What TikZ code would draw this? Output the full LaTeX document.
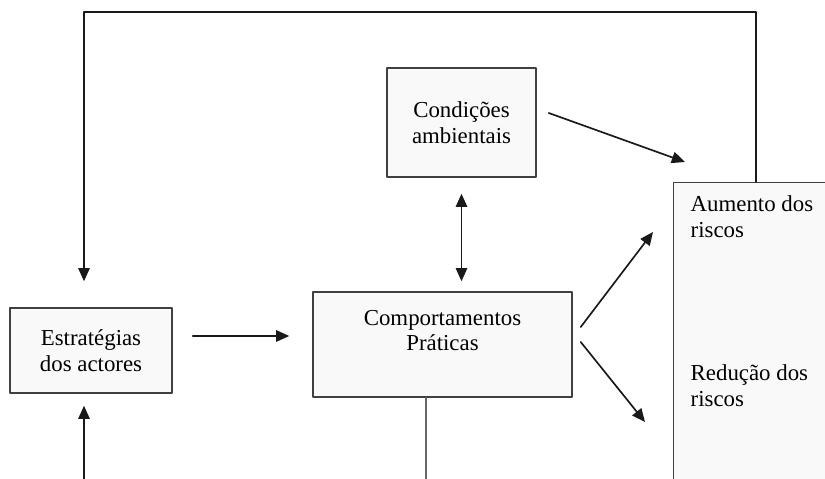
\documentclass[tikz,border=0pt]{standalone}
\usepackage{fontspec}
\setmainfont{Liberation Serif}
\usepackage{tikz}
\usetikzlibrary{arrows.meta}
\definecolor{sqsqsq}{rgb}{0.25,0.25,0.25}
\definecolor{wvwvwv}{rgb}{0.4,0.4,0.4}
\definecolor{fafafa}{rgb}{0.975,0.975,0.975}
\begin{document}
\begin{tikzpicture}[line cap=round,line join=round,>={Triangle[length=7.5pt,width=6.5pt]},x=1.0cm,y=1.0cm,
  box/.style={draw=sqsqsq,line width=0.85pt,fill=fafafa,align=center,
    font=\fontsize{13}{14.7}\selectfont},
  txt/.style={align=left,font=\fontsize{13}{14.7}\selectfont},
  link/.style={->,line width=0.95pt,color=black!90}]
\clip(0,0) rectangle (16.5,9.58);
% boxes
\node[box,minimum width=3.24cm,minimum height=1.70cm] (estr) at (1.82,2.57) {Estrat\'egias\\dos actores};
\node[box,minimum width=5.18cm,minimum height=2.10cm,
  label={[anchor=north,yshift=-0.25cm,align=center,font=\fontsize{13}{14.7}\selectfont]north:Comportamentos\\Pr\'aticas}] (comp) at (8.85,2.69) {};
\node[box,minimum width=2.98cm,minimum height=2.18cm] (cond) at (9.23,7.13) {Condi\c{c}\~oes\\ambientais};
\node[box,anchor=north west,minimum width=4cm,minimum height=7cm] (risk) at (13.46,5.94) {};
\node[txt,anchor=north west] (aum) at (13.69,5.79) {Aumento dos\\riscos};
\node[txt,anchor=north west] (red) at (13.69,2.41) {Redu\c{c}\~ao dos\\riscos};
% free ends
\coordinate (topR) at (15.12,9.34);
\coordinate (topL) at (1.68,9.34);
\coordinate (botL) at (1.68,-0.2);
\coordinate (botM) at (8.52,-0.2);
\coordinate (condTip) at (13.70,6.34);
\coordinate (upTip) at (13.06,4.94);
\coordinate (downTip) at (12.90,1.14);
% connectors
\draw[link,shorten >=0.52cm] (risk.north -| topR) -- (topR) -- (topL) -- (topL |- estr.north);
\draw[link,shorten >=0.24cm] (botL) -- (botL |- estr.south);
\draw[link,shorten <=0.4cm,shorten >=0.46cm] ([yshift=0.29cm]estr.east) -- ([yshift=0.17cm]comp.west);
\draw[link,<->,shorten <=0.32cm,shorten >=0.2cm] (cond.south) -- (cond.south |- comp.north);
\draw[link] ([shift={(0.24,0.19)}]cond.east) -- (condTip);
\draw[link] ([shift={(0.16,0.35)}]comp.east) -- (upTip);
\draw[link] ([shift={(0.16,0.05)}]comp.east) -- (downTip);
\draw[color=wvwvwv,line width=0.95pt] ([xshift=-0.33cm]comp.south) -- (botM);
\end{tikzpicture}
\end{document}
